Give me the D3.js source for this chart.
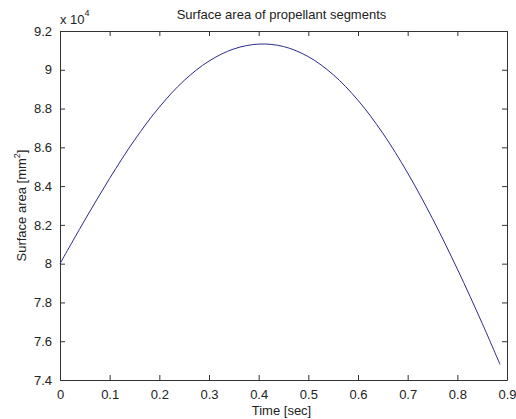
<!DOCTYPE html>
<html>
<head>
<meta charset="utf-8">
<script src="https://cdn.jsdelivr.net/npm/d3@7"></script>
<style>
  html, body { margin: 0; padding: 0; background: #fff; }
  svg { display: block; }
  text { font-family: "Liberation Sans", Arial, sans-serif; fill: #222; }
</style>
</head>
<body>
<script>
// ---- data ----
const timeSec = [0, 0.05, 0.1, 0.15, 0.2, 0.25, 0.3, 0.35, 0.4, 0.45, 0.5, 0.55, 0.6, 0.65, 0.7, 0.75, 0.8, 0.85, 0.886];
const surfaceArea = [80000, 82250, 84400, 86375, 88075, 89450, 90450, 91075, 91325, 91200, 90675, 89750, 88425, 86725, 84675, 82325, 79725, 76925, 74800];
const xTicks = [0, 0.1, 0.2, 0.3, 0.4, 0.5, 0.6, 0.7, 0.8, 0.9];
const yTicks = [74000, 76000, 78000, 80000, 82000, 84000, 86000, 88000, 90000, 92000];
const titleText = "Surface area of propellant segments";
const xLabelText = "Time [sec]";

const W = 516, H = 419;
const m = { left: 60, right: 9, top: 31, bottom: 39 };

const svg = d3.select("body").append("svg").attr("width", W).attr("height", H);

const x = d3.scaleLinear().domain([0, 0.9]).range([m.left, W - m.right]);
const y = d3.scaleLinear().domain([74000, 92000]).range([H - m.bottom, m.top]);

const axisColor = "#333";
const fmtY = v => d3.format(".1f")(v / 1e4).replace(/\.0$/, "");
const fmtX = v => v === 0 ? "0" : d3.format(".1f")(v);

// bottom axis
const gx = svg.append("g").attr("transform", `translate(0,${H - m.bottom})`)
  .call(d3.axisBottom(x).tickValues(xTicks).tickFormat(fmtX).tickSizeInner(-5).tickSizeOuter(0).tickPadding(10));
// top axis (ticks only)
const gxt = svg.append("g").attr("transform", `translate(0,${m.top})`)
  .call(d3.axisTop(x).tickValues(xTicks).tickFormat("").tickSizeInner(-5).tickSizeOuter(0));
// left axis
const gy = svg.append("g").attr("transform", `translate(${m.left},0)`)
  .call(d3.axisLeft(y).tickValues(yTicks).tickFormat(fmtY).tickSizeInner(-5).tickSizeOuter(0).tickPadding(8));
// right axis (ticks only)
const gyr = svg.append("g").attr("transform", `translate(${W - m.right},0)`)
  .call(d3.axisRight(y).tickValues(yTicks).tickFormat("").tickSizeInner(-5).tickSizeOuter(0));

[gx, gxt, gy, gyr].forEach(g => {
  g.selectAll("path.domain").attr("stroke", axisColor).attr("stroke-width", 1);
  g.selectAll("line").attr("stroke", axisColor);
  g.selectAll("text").attr("font-size", 13).attr("fill", "#222")
    .attr("font-family", "'Liberation Sans', Arial, sans-serif");
});

// data line
const line = d3.line().x((d, i) => x(timeSec[i])).y(d => y(d)).curve(d3.curveCatmullRom.alpha(0.5));
svg.append("path").datum(surfaceArea)
  .attr("d", line)
  .attr("fill", "none")
  .attr("stroke", "#2a2a8a")
  .attr("stroke-width", 1);

// title
svg.append("text").attr("x", (m.left + W - m.right) / 2 - 2).attr("y", 19)
  .attr("text-anchor", "middle").attr("font-size", 13).text(titleText);

// x 10^4 exponent
const ex = svg.append("text").attr("x", m.left).attr("y", 24).attr("font-size", 13);
ex.append("tspan").text("x 10");
ex.append("tspan").attr("font-size", 9).attr("dy", -8).text("4");

// x label
svg.append("text").attr("x", (m.left + W - m.right) / 2 - 2).attr("y", 415)
  .attr("text-anchor", "middle").attr("font-size", 13).text(xLabelText);

// y label
const yl = svg.append("text")
  .attr("transform", `translate(26,${(m.top + H - m.bottom) / 2}) rotate(-90)`)
  .attr("text-anchor", "middle").attr("font-size", 13);
yl.append("tspan").text("Surface area [mm");
yl.append("tspan").attr("font-size", 9).attr("dy", -6).text("2");
yl.append("tspan").attr("dy", 6).text("]");
</script>
</body>
</html>
